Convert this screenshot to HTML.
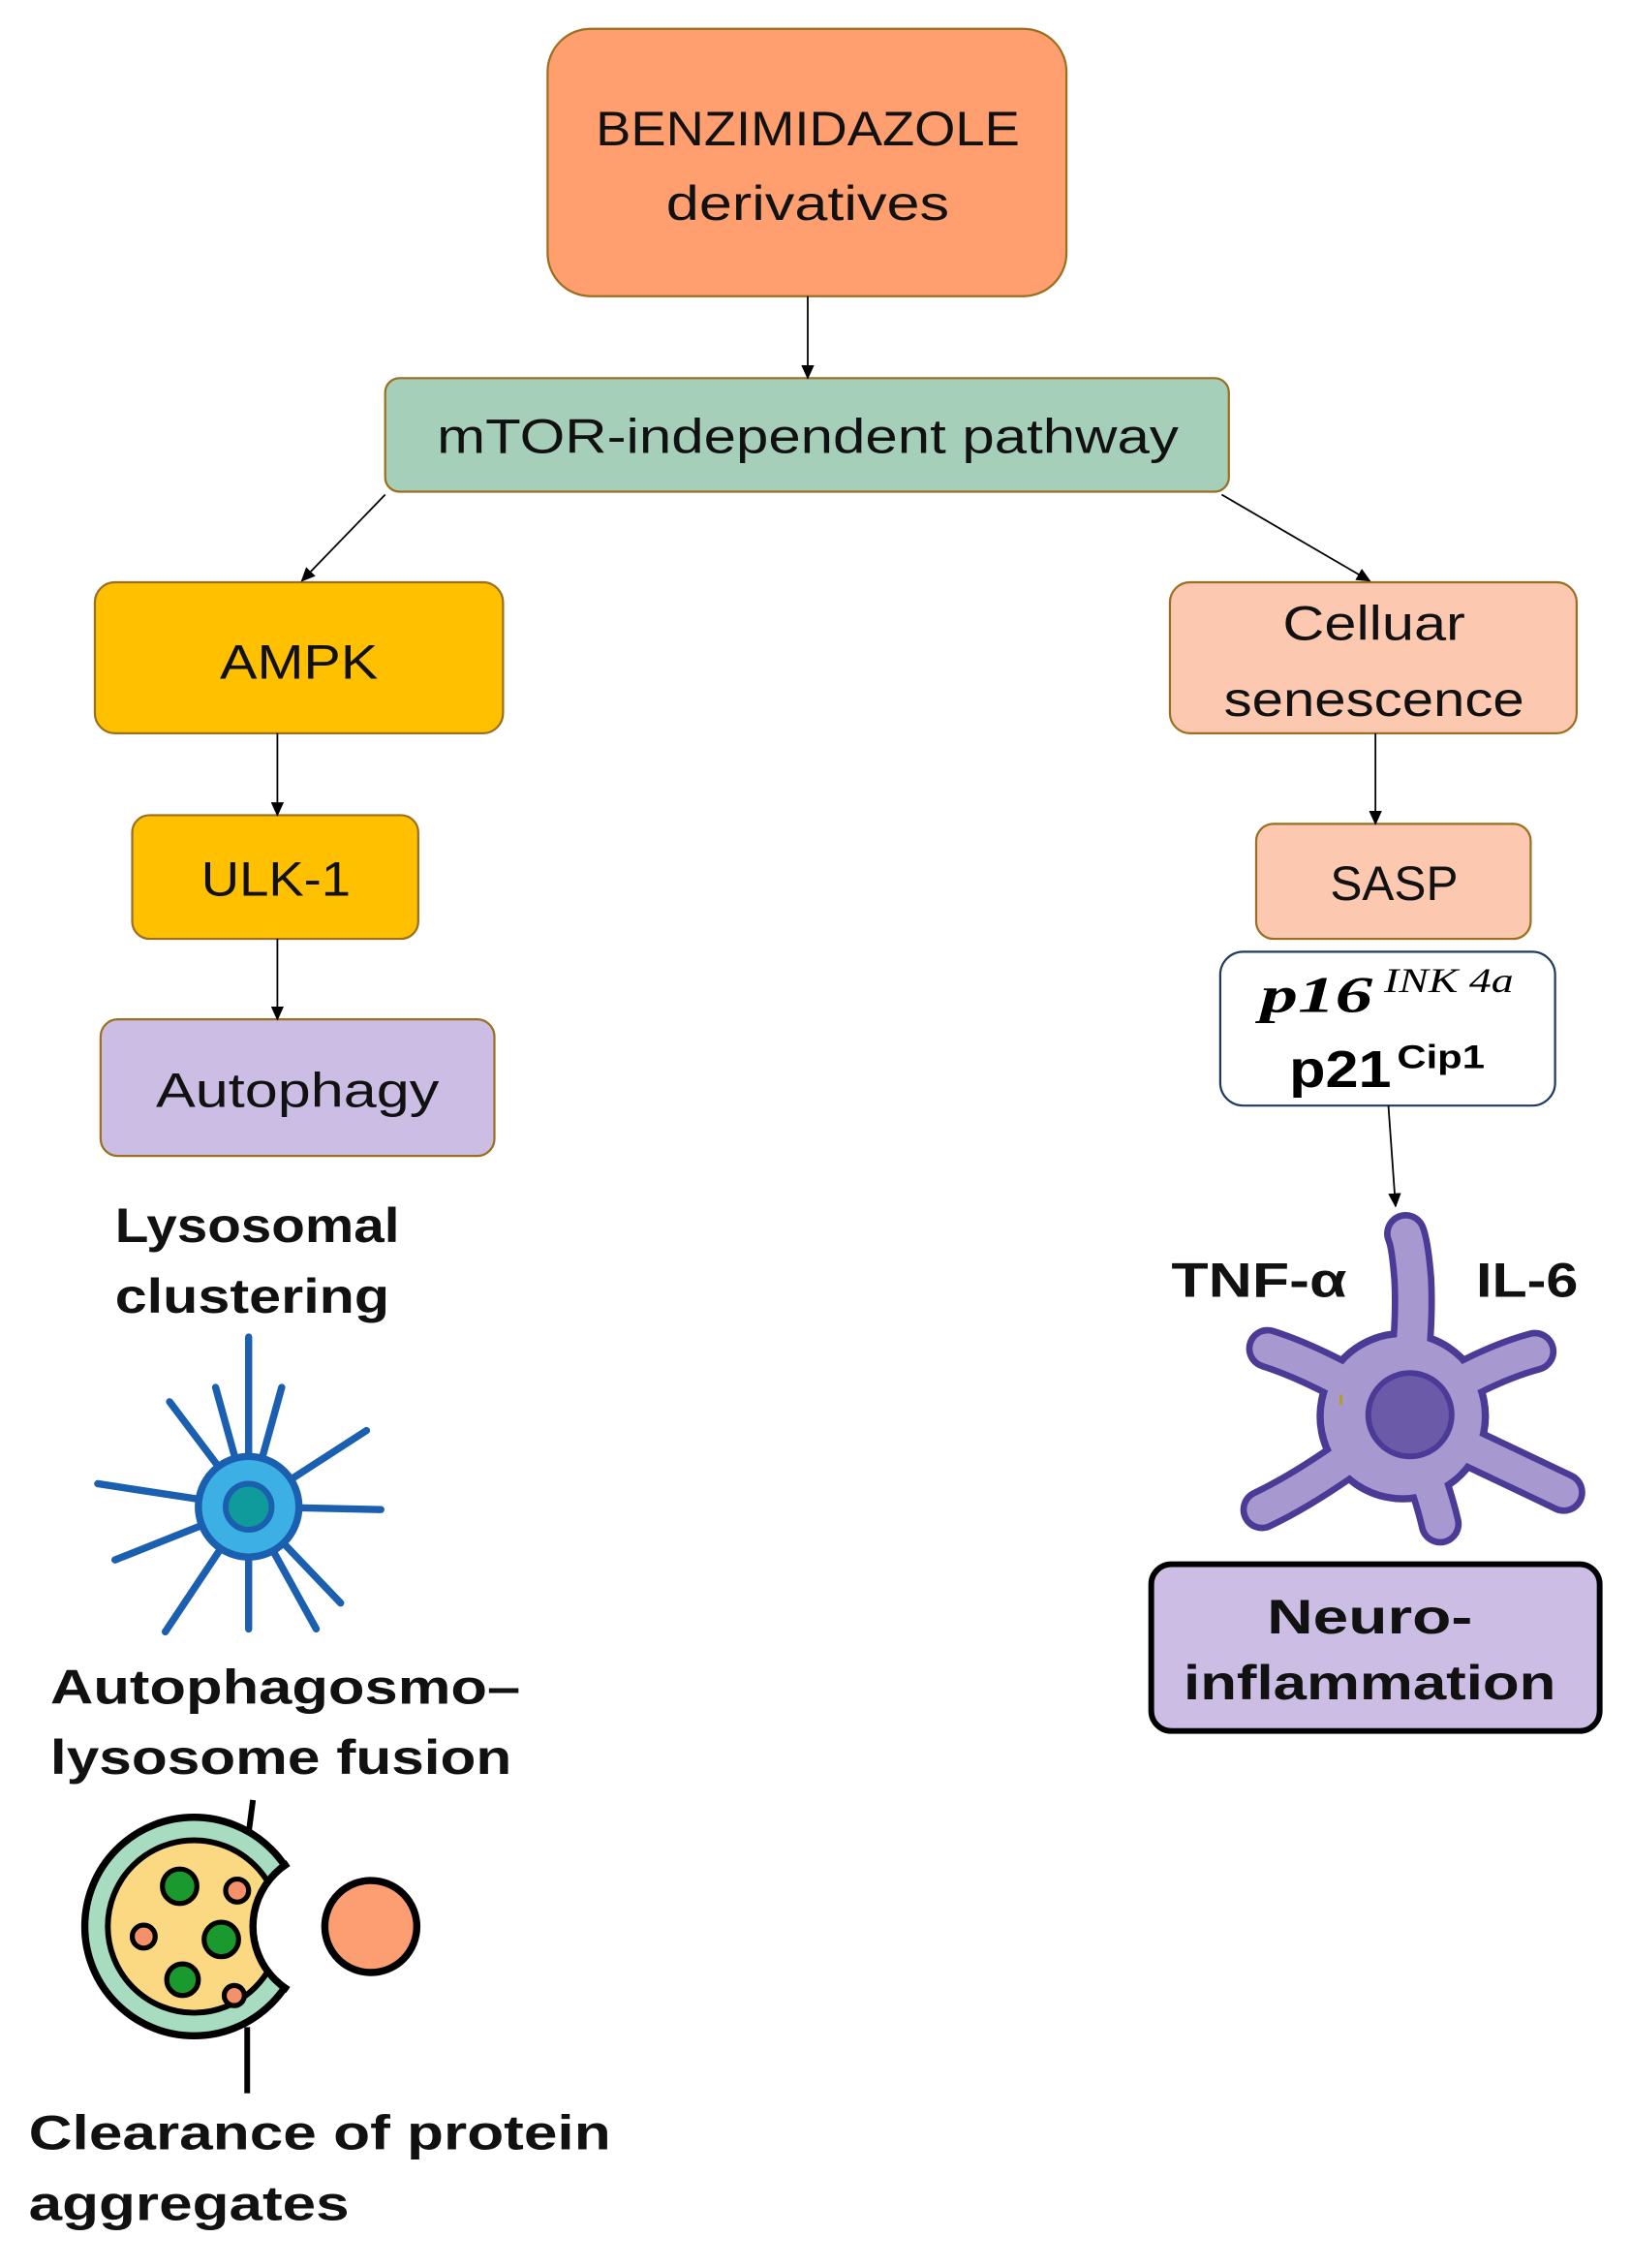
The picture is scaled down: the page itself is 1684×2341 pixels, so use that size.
<!DOCTYPE html>
<html><head><meta charset="utf-8"><style>
html,body{margin:0;padding:0;background:#fff;}
svg{display:block;}
.bx{font-family:"Liberation Sans",sans-serif;font-size:34px;fill:#111;}
.bd{font-family:"Liberation Sans",sans-serif;font-weight:bold;font-size:34px;fill:#111;}
</style></head><body>
<svg width="1684" height="2341" viewBox="0 0 1134.8 1577.5" xmlns="http://www.w3.org/2000/svg">
<defs>
<marker id="ah" markerWidth="10" markerHeight="10" refX="9" refY="5" orient="auto" markerUnits="userSpaceOnUse">
<path d="M0,0.5 L10,5 L0,9.5 Z" fill="#000"/></marker>
<clipPath id="outerc"><circle cx="135" cy="1340" r="79"/></clipPath>
</defs>
<rect width="1134.8" height="1577.5" fill="#fff"/>

<rect x="381" y="20" width="361" height="186" rx="30" fill="#ff9e6e" stroke="#9c6e1f" stroke-width="1.5"/>
<text class="bx" x="562" y="101" text-anchor="middle" textLength="295" lengthAdjust="spacingAndGlyphs">BENZIMIDAZOLE</text>
<text class="bx" x="562" y="153" text-anchor="middle" textLength="197" lengthAdjust="spacingAndGlyphs">derivatives</text>

<rect x="268" y="263" width="587" height="79" rx="10" fill="#a6cfba" stroke="#9c6e1f" stroke-width="1.5"/>
<text class="bx" x="562" y="315" text-anchor="middle" textLength="516" lengthAdjust="spacingAndGlyphs">mTOR-independent pathway</text>

<rect x="66" y="405" width="284" height="105" rx="14" fill="#ffc000" stroke="#9c6e1f" stroke-width="1.5"/>
<text class="bx" x="208" y="472" text-anchor="middle" textLength="110" lengthAdjust="spacingAndGlyphs">AMPK</text>

<rect x="814" y="405" width="283" height="105" rx="14" fill="#fdc8b0" stroke="#9c6e1f" stroke-width="1.5"/>
<text class="bx" x="956" y="445" text-anchor="middle" textLength="127" lengthAdjust="spacingAndGlyphs">Celluar</text>
<text class="bx" x="956" y="498" text-anchor="middle" textLength="209" lengthAdjust="spacingAndGlyphs">senescence</text>

<rect x="92" y="567" width="199" height="86" rx="12" fill="#ffc000" stroke="#9c6e1f" stroke-width="1.5"/>
<text class="bx" x="192" y="623" text-anchor="middle" textLength="104" lengthAdjust="spacingAndGlyphs">ULK-1</text>

<rect x="874" y="573" width="191" height="80" rx="12" fill="#fdc8b0" stroke="#9c6e1f" stroke-width="1.5"/>
<text class="bx" x="970" y="626" text-anchor="middle" textLength="89" lengthAdjust="spacingAndGlyphs">SASP</text>

<rect x="70" y="709" width="274" height="95" rx="12" fill="#cbbde4" stroke="#9c6e1f" stroke-width="1.5"/>
<text class="bx" x="207" y="770" text-anchor="middle" textLength="197" lengthAdjust="spacingAndGlyphs">Autophagy</text>

<rect x="849" y="662" width="233" height="107" rx="16" fill="#fff" stroke="#1f3a60" stroke-width="1.5"/>
<text x="877" y="704" font-family="Liberation Serif,serif" font-weight="bold" font-style="italic" font-size="36" textLength="78" lengthAdjust="spacingAndGlyphs">p16</text>
<text x="963" y="690" font-family="Liberation Serif,serif" font-style="italic" font-size="24" textLength="90" lengthAdjust="spacingAndGlyphs">INK 4a</text>
<text x="897" y="756" font-family="Liberation Sans,sans-serif" font-weight="bold" font-size="36" textLength="71" lengthAdjust="spacingAndGlyphs">p21</text>
<text x="972" y="743" font-family="Liberation Sans,sans-serif" font-weight="bold" font-size="23" textLength="61" lengthAdjust="spacingAndGlyphs">Cip1</text>

<rect x="801" y="1088" width="312" height="116" rx="14" fill="#cbbde4" stroke="#000" stroke-width="4"/>
<text class="bd" x="953" y="1136" text-anchor="middle" font-size="38" textLength="143" lengthAdjust="spacingAndGlyphs">Neuro-</text>
<text class="bd" x="953" y="1182" text-anchor="middle" font-size="38" textLength="259" lengthAdjust="spacingAndGlyphs">inflammation</text>

<g stroke="#000" stroke-width="1.2" fill="none">
<line x1="562" y1="206" x2="562" y2="263" marker-end="url(#ah)"/>
<line x1="268" y1="344" x2="210" y2="404" marker-end="url(#ah)"/>
<line x1="850" y1="344" x2="953" y2="404" marker-end="url(#ah)"/>
<line x1="193" y1="510" x2="193" y2="567" marker-end="url(#ah)"/>
<line x1="193" y1="653" x2="193" y2="709" marker-end="url(#ah)"/>
<line x1="957" y1="510" x2="957" y2="573" marker-end="url(#ah)"/>
<line x1="966" y1="769" x2="971" y2="839" marker-end="url(#ah)"/>
</g>

<text class="bd" x="80" y="864" textLength="198" lengthAdjust="spacingAndGlyphs">Lysosomal</text>
<text class="bd" x="80" y="913" textLength="191" lengthAdjust="spacingAndGlyphs">clustering</text>
<text class="bd" x="35" y="1185" textLength="327" lengthAdjust="spacingAndGlyphs">Autophagosmo–</text>
<text class="bd" x="35" y="1234" textLength="321" lengthAdjust="spacingAndGlyphs">lysosome fusion</text>
<text class="bd" x="20" y="1495" textLength="405" lengthAdjust="spacingAndGlyphs">Clearance of protein</text>
<text class="bd" x="20" y="1544" textLength="223" lengthAdjust="spacingAndGlyphs">aggregates</text>

<g stroke="#1a5fb0" stroke-width="5" stroke-linecap="round">
<line x1="173" y1="1048" x2="173" y2="930"/>
<line x1="173" y1="1048" x2="68" y2="1032"/>
<line x1="173" y1="1048" x2="265" y2="1050"/>
<line x1="173" y1="1048" x2="173" y2="1133"/>
<line x1="173" y1="1048" x2="118" y2="975"/>
<line x1="173" y1="1048" x2="150" y2="965"/>
<line x1="173" y1="1048" x2="196" y2="965"/>
<line x1="173" y1="1048" x2="255" y2="995"/>
<line x1="173" y1="1048" x2="80" y2="1085"/>
<line x1="173" y1="1048" x2="115" y2="1135"/>
<line x1="173" y1="1048" x2="220" y2="1133"/>
<line x1="173" y1="1048" x2="237" y2="1115"/>
</g>
<circle cx="173" cy="1048" r="35" fill="#3cb0e4" stroke="#1a5fb0" stroke-width="5"/>
<circle cx="173" cy="1048" r="16" fill="#0f9a9c" stroke="#1a5fb0" stroke-width="4"/>

<line x1="176" y1="1252" x2="173" y2="1275" stroke="#000" stroke-width="4"/>
<line x1="172" y1="1410" x2="172" y2="1456" stroke="#000" stroke-width="4"/>
<g clip-path="url(#outerc)">
<circle cx="135" cy="1340" r="76" fill="#a8dcc0" stroke="#000" stroke-width="5"/>
<circle cx="135" cy="1340" r="60" fill="#fbd982" stroke="#000" stroke-width="4"/>
<circle cx="228" cy="1340" r="52" fill="#fff" stroke="#000" stroke-width="5"/>
</g>
<g stroke="#000" stroke-width="3.5">
<circle cx="125" cy="1312" r="12" fill="#1a9a2e"/>
<circle cx="154" cy="1349" r="12" fill="#1a9a2e"/>
<circle cx="127" cy="1377" r="11" fill="#1a9a2e"/>
<circle cx="165" cy="1315" r="8" fill="#f4906a"/>
<circle cx="100" cy="1347" r="8" fill="#f4906a"/>
<circle cx="163" cy="1388" r="7" fill="#f4906a"/>
</g>
<circle cx="258" cy="1340" r="32" fill="#fd9e72" stroke="#000" stroke-width="5"/>

<text class="bd" x="815" y="902" textLength="122" lengthAdjust="spacingAndGlyphs">TNF-α</text>
<text class="bd" x="1027" y="902" textLength="71" lengthAdjust="spacingAndGlyphs">IL-6</text>
<g fill="none" stroke-linecap="round" stroke-linejoin="round">
<g stroke="#4b3a96" stroke-width="30">
<path d="M976,985 Q985,930 983,890 Q981,865 978,858"/>
<path d="M976,985 Q920,950 882,938"/>
<path d="M976,985 Q1030,950 1068,940"/>
<path d="M976,985 Q920,1030 878,1050"/>
<path d="M976,985 Q1040,1015 1088,1038"/>
<path d="M976,985 Q995,1030 1002,1060"/>
</g>
<circle cx="976" cy="985" r="60" fill="#4b3a96" stroke="none"/>
<g stroke="#a898d0" stroke-width="21">
<path d="M976,985 Q985,930 983,890 Q981,865 978,858"/>
<path d="M976,985 Q920,950 882,938"/>
<path d="M976,985 Q1030,950 1068,940"/>
<path d="M976,985 Q920,1030 878,1050"/>
<path d="M976,985 Q1040,1015 1088,1038"/>
<path d="M976,985 Q995,1030 1002,1060"/>
</g>
</g>
<circle cx="976" cy="985" r="55" fill="#a898d0"/>
<circle cx="981" cy="984" r="29" fill="#6a5aa8" stroke="#4b3a96" stroke-width="4"/>
<rect x="932" y="970" width="2" height="7" fill="#b0a020"/>
</svg>
</body></html>
